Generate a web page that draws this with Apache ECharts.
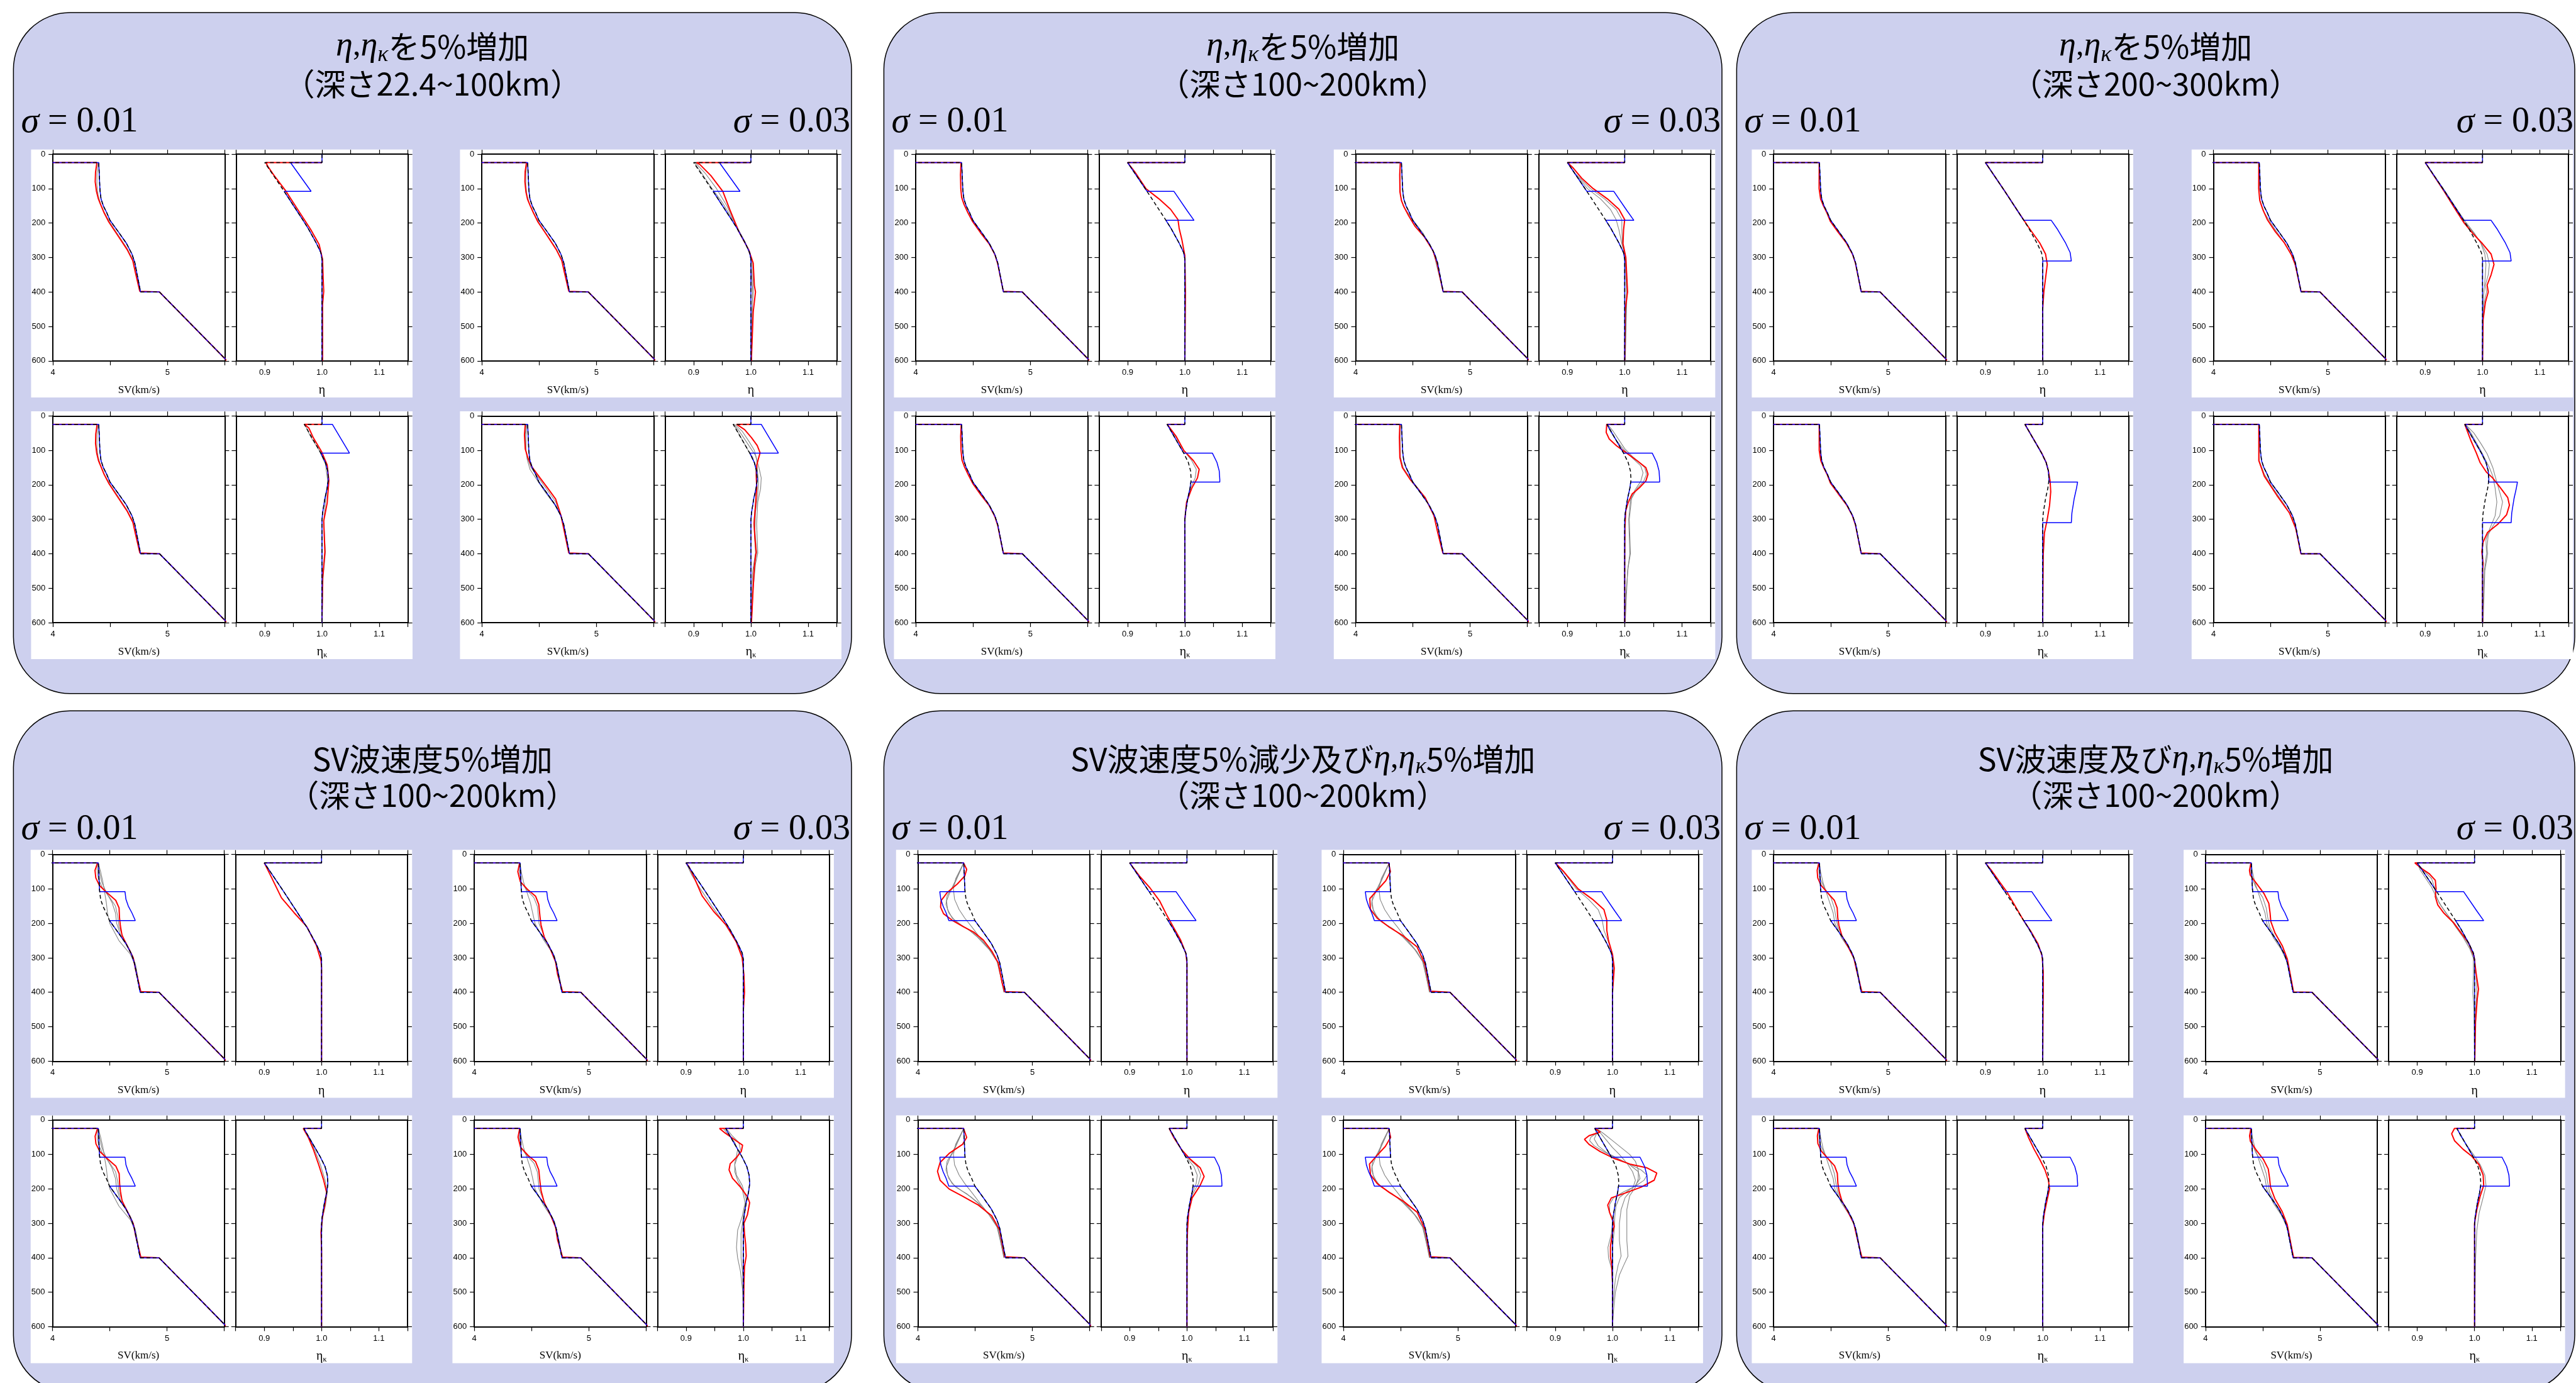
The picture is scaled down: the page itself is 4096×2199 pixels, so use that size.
<!DOCTYPE html>
<html>
<head>
<meta charset="utf-8">
<script src="https://cdn.jsdelivr.net/npm/echarts/dist/echarts.min.js"></script>
<style>
html, body { margin: 0; padding: 0; background: #fff; }
#chart { width: 4096px; height: 2199px; }
</style>
</head>
<body>
<div id="chart"></div>
<script>
// ---- data: profiles as [value, depth(km)] ----
var svTail = [[4.765, 400], [4.93, 400], [5.5, 593], [5.52, 600]];

var svInit = [[3.6, 0], [3.6, 24.4], [4.40, 24.4], [4.41, 100], [4.412, 108], [4.42, 130], [4.44, 150], [4.47, 170], [4.498, 192], [4.57, 225], [4.64, 258], [4.69, 290], [4.715, 315]].concat(svTail);
var svTrueUp = [[3.6, 0], [3.6, 24.4], [4.40, 24.4], [4.41, 100], [4.412, 108], [4.633, 108], [4.641, 130], [4.662, 150], [4.694, 170], [4.723, 192], [4.498, 192], [4.57, 225], [4.64, 258], [4.69, 290], [4.715, 315]].concat(svTail);
var svTrueDown = [[3.6, 0], [3.6, 24.4], [4.40, 24.4], [4.41, 100], [4.412, 108], [4.191, 108], [4.20, 130], [4.22, 150], [4.247, 170], [4.27, 192], [4.498, 192], [4.57, 225], [4.64, 258], [4.69, 290], [4.715, 315]].concat(svTail);

var etaInit = [[1, 0], [1, 24.4], [0.9, 24.4], [0.934, 108], [0.956, 164], [0.967, 192], [0.976, 216], [0.99, 258], [0.998, 286], [1.0, 305], [1.0, 600]];
var etaTrueShallow = [[1, 0], [1, 24.4], [0.945, 24.4], [0.981, 108], [0.934, 108], [0.956, 164], [0.967, 192], [0.976, 216], [0.99, 258], [0.998, 286], [1.0, 305], [1.0, 600]];
var etaTrueMid = [[1, 0], [1, 24.4], [0.9, 24.4], [0.934, 108], [0.981, 108], [1.004, 164], [1.016, 192], [0.967, 192], [0.976, 216], [0.99, 258], [0.998, 286], [1.0, 305], [1.0, 600]];
var etaTrueDeep = [[1, 0], [1, 24.4], [0.9, 24.4], [0.934, 108], [0.956, 164], [0.967, 192], [1.015, 192], [1.025, 216], [1.04, 258], [1.048, 286], [1.05, 310], [1.0, 310], [1.0, 600]];

var etakInit = [[1, 0], [1, 24.4], [0.969, 24.4], [0.998, 108], [1.006, 135], [1.010, 160], [1.011, 185], [1.0105, 192], [1.009, 210], [1.005, 240], [1.001, 282], [1.0, 303], [1.0, 600]];
var etakTrueShallow = [[1, 0], [1, 24.4], [1.018, 24.4], [1.048, 108], [0.998, 108], [1.006, 135], [1.010, 160], [1.011, 185], [1.0105, 192], [1.009, 210], [1.005, 240], [1.001, 282], [1.0, 303], [1.0, 600]];
var etakTrueMid = [[1, 0], [1, 24.4], [0.969, 24.4], [0.998, 108], [1.048, 108], [1.056, 135], [1.06, 160], [1.061, 185], [1.061, 192], [1.0105, 192], [1.009, 210], [1.005, 240], [1.001, 282], [1.0, 303], [1.0, 600]];
var etakTrueDeep = [[1, 0], [1, 24.4], [0.969, 24.4], [0.998, 108], [1.006, 135], [1.010, 160], [1.011, 185], [1.0105, 192], [1.061, 192], [1.059, 210], [1.055, 240], [1.051, 282], [1.05, 310], [1.0, 310], [1.0, 600]];

// panel A : eta, eta_k +5% (22.4-100km)
var redA1Sv = [[4.0, 24.4], [4.384, 24.4], [4.372, 52], [4.369, 80], [4.38, 108], [4.396, 129], [4.415, 145], [4.445, 169], [4.488, 197], [4.562, 234], [4.648, 277], [4.697, 309], [4.719, 342], [4.758, 398]].concat(svTail);
var redA2Sv = [[4.0, 24.4], [4.39, 24.4], [4.378, 50], [4.376, 80], [4.385, 110], [4.40, 132], [4.42, 148], [4.45, 170], [4.49, 197], [4.565, 234], [4.65, 277], [4.698, 309], [4.72, 342], [4.759, 398]].concat(svTail);
var redA3Sv = [[4.0, 24.4], [4.386, 24.4], [4.374, 52], [4.372, 80], [4.382, 108], [4.398, 130], [4.418, 146], [4.447, 170], [4.49, 197], [4.563, 234], [4.649, 277], [4.698, 309], [4.72, 342], [4.759, 398]].concat(svTail);
var redA4Sv = [[4.0, 24.4], [4.379, 24.4], [4.372, 55], [4.379, 96], [4.402, 122], [4.437, 148], [4.506, 179], [4.58, 212], [4.644, 241], [4.69, 288], [4.713, 324], [4.759, 398]].concat(svTail);
var grayA1Sv = [[[4.395, 24.4], [4.385, 55], [4.384, 90], [4.395, 120], [4.42, 148], [4.45, 170], [4.495, 197], [4.565, 232], [4.65, 275], [4.70, 308], [4.72, 340], [4.76, 398]]];
var grayA4Sv = [
  [[4.392, 24.4], [4.385, 60], [4.386, 100], [4.395, 125], [4.42, 155], [4.48, 185], [4.55, 220], [4.64, 260], [4.69, 290], [4.715, 320], [4.762, 398]],
  [[4.388, 24.4], [4.378, 55], [4.382, 96], [4.398, 122], [4.43, 150], [4.495, 180], [4.57, 215], [4.645, 250], [4.692, 290], [4.714, 322], [4.76, 398]]
];
var redA1Eta = [[1, 24.4], [0.902, 24.4], [0.906, 37], [0.916, 61], [0.936, 105], [0.957, 159], [0.98, 218], [0.995, 262], [1.001, 305], [1.002, 360], [1.003, 398], [1.001, 436], [1.001, 600]];
var redA2Eta = [[1, 24.4], [0.905, 24.4], [0.911, 30], [0.93, 62], [0.951, 108], [0.963, 160], [0.979, 225], [0.996, 277], [1.004, 316], [1.006, 381], [1.008, 400], [1.004, 458], [1.001, 588], [1.001, 600]];
var grayA2Eta = [
  [[0.903, 24.4], [0.92, 55], [0.94, 100], [0.958, 150], [0.978, 220], [0.995, 275], [1.003, 320], [1.004, 400], [1.002, 460], [1.0, 600]],
  [[0.901, 24.4], [0.912, 50], [0.93, 95], [0.95, 140], [0.972, 200], [0.99, 255], [1.0, 300], [1.003, 400], [1.001, 600]]
];
var redA3Etak = [[1, 24.4], [0.969, 24.4], [0.977, 35], [0.985, 64], [0.999, 103], [1.009, 142], [1.012, 188], [1.009, 253], [1.003, 305], [1.005, 395], [1.001, 473], [1.0, 600]];
var grayA3Etak = [[[0.97, 24.4], [0.98, 60], [0.995, 100], [1.006, 140], [1.01, 190], [1.006, 250], [1.003, 305], [1.006, 395], [1.002, 470], [1.0, 600]]];
var redA4Etak = [[1, 24.4], [0.975, 24.4], [0.989, 40], [1.001, 63], [1.011, 86], [1.016, 107], [1.0135, 122], [1.0102, 143], [1.0093, 174], [1.0102, 210], [1.0079, 262], [1.0056, 313], [1.007, 355], [1.0093, 396], [1.008, 406], [1.0056, 448], [1.0033, 520], [1.0009, 600]];
var grayA4Etak = [
  [[0.97, 24.4], [0.98, 45], [0.99, 70], [1.0, 95], [1.008, 115], [1.014, 150], [1.018, 180], [1.017, 210], [1.012, 250], [1.01, 313], [1.012, 398], [1.008, 430], [1.004, 500], [1.001, 600]],
  [[0.969, 24.4], [0.975, 40], [0.985, 70], [0.995, 100], [1.003, 120], [1.008, 150], [1.01, 190], [1.008, 250], [1.005, 310], [1.008, 398], [1.003, 450], [1.0, 600]],
  [[0.972, 24.4], [0.985, 45], [0.997, 75], [1.006, 100], [1.01, 125], [1.011, 150], [1.013, 190], [1.012, 230], [1.008, 280], [1.007, 330], [1.01, 398], [1.005, 440], [1.001, 600]]
];

// panel B : eta, eta_k +5% (100-200km)
var redB1Sv = [[4.0, 24.4], [4.395, 24.4], [4.39, 60], [4.393, 100], [4.40, 125], [4.42, 145], [4.455, 170], [4.495, 195], [4.565, 228], [4.64, 260], [4.69, 291], [4.715, 318], [4.764, 398]].concat(svTail);
var redB2Sv = [[4.0, 24.4], [4.39, 24.4], [4.385, 60], [4.387, 110], [4.40, 135], [4.425, 155], [4.465, 180], [4.52, 210], [4.60, 240], [4.675, 280], [4.71, 315], [4.763, 398]].concat(svTail);
var redB3Sv = [[4.0, 24.4], [4.397, 24.4], [4.392, 60], [4.395, 100], [4.403, 128], [4.425, 148], [4.46, 172], [4.497, 196], [4.567, 229], [4.642, 261], [4.69, 292], [4.715, 318], [4.764, 398]].concat(svTail);
var redB4Sv = [[4.0, 24.4], [4.386, 24.4], [4.382, 62], [4.386, 121], [4.408, 150], [4.475, 184], [4.607, 237], [4.684, 290], [4.717, 339], [4.762, 399]].concat(svTail);
var grayB4Sv = [[[4.392, 24.4], [4.388, 62], [4.392, 120], [4.415, 150], [4.48, 182], [4.59, 230], [4.68, 285], [4.716, 335], [4.763, 399]]];
var redB1Eta = [[1, 24.4], [0.9, 24.4], [0.912, 50], [0.932, 100], [0.955, 130], [0.975, 160], [0.988, 190], [0.99, 215], [0.995, 250], [1.0, 295], [1.001, 400], [1.0, 600]];
var redB2Eta = [[1, 24.4], [0.9, 24.4], [0.91, 40], [0.925, 70], [0.945, 100], [0.97, 130], [0.99, 160], [1.0, 190], [0.998, 220], [0.997, 260], [1.002, 300], [1.005, 400], [1.001, 450], [1.0, 600]];
var grayB2Eta = [
  [[0.9, 24.4], [0.915, 60], [0.935, 100], [0.958, 130], [0.975, 160], [0.985, 190], [0.99, 220], [0.995, 260], [1.001, 300], [1.003, 400], [1.0, 600]],
  [[0.9, 24.4], [0.913, 55], [0.94, 100], [0.965, 130], [0.985, 160], [0.995, 190], [0.995, 220], [0.996, 260], [1.001, 300], [1.004, 400], [1.001, 600]]
];
var redB3Etak = [[1, 24.4], [0.969, 24.4], [0.985, 60], [0.998, 100], [1.015, 130], [1.025, 155], [1.022, 180], [1.012, 210], [1.003, 250], [1.0, 300], [1.0, 600]];
var grayB3Etak = [[[0.969, 24.4], [0.984, 60], [0.998, 100], [1.012, 130], [1.02, 155], [1.018, 180], [1.01, 210], [1.003, 250], [1.0, 300], [1.0, 600]]];
var redB4Etak = [[1, 24.4], [0.9686, 24.4], [0.9677, 48], [0.973, 67], [0.986, 87], [1.0018, 106], [1.0217, 130], [1.037, 150], [1.0407, 169], [1.037, 188.6], [1.026, 208], [1.0128, 227], [1.006, 252], [1.0018, 276], [1.0004, 324], [1.0, 421], [1.0, 600]];
var grayB4Etak = [
  [[0.969, 24.4], [0.975, 45], [0.985, 70], [0.997, 95], [1.012, 120], [1.028, 145], [1.032, 165], [1.028, 190], [1.018, 215], [1.01, 245], [1.007, 300], [1.008, 350], [1.009, 400], [1.005, 450], [1.001, 600]],
  [[0.97, 24.4], [0.98, 45], [0.99, 70], [1.0, 95], [1.015, 120], [1.035, 150], [1.038, 170], [1.033, 190], [1.022, 210], [1.012, 240], [1.008, 300], [1.01, 400], [1.006, 440], [1.002, 520], [1.0, 600]]
];

// panel C : eta, eta_k +5% (200-300km)
var redC1Sv = [[4.0, 24.4], [4.398, 24.4], [4.397, 100], [4.41, 130], [4.435, 150], [4.465, 170], [4.495, 195], [4.56, 225], [4.635, 258], [4.688, 290], [4.714, 316], [4.764, 398]].concat(svTail);
var redC2Sv = [[4.0, 24.4], [4.396, 24.4], [4.395, 100], [4.405, 135], [4.43, 160], [4.47, 190], [4.54, 225], [4.62, 258], [4.68, 292], [4.714, 320], [4.764, 398]].concat(svTail);
var redC3Sv = [[4.0, 24.4], [4.398, 24.4], [4.398, 100], [4.412, 130], [4.437, 150], [4.467, 170], [4.496, 195], [4.562, 225], [4.636, 258], [4.688, 290], [4.714, 316], [4.764, 398]].concat(svTail);
var redC4Sv = [[4.0, 24.4], [4.396, 24.4], [4.396, 130], [4.444, 175], [4.554, 231], [4.664, 282], [4.719, 327], [4.763, 400]].concat(svTail);
var grayC4Sv = [[[4.40, 24.4], [4.40, 130], [4.445, 170], [4.52, 210], [4.62, 258], [4.685, 295], [4.715, 325], [4.764, 398]]];
var redC1Eta = [[1, 24.4], [0.9, 24.4], [0.934, 108], [0.956, 164], [0.977, 216], [0.995, 258], [1.005, 290], [1.008, 320], [1.005, 360], [1.002, 400], [1.0, 450], [1.0, 600]];
var redC2Eta = [[1, 24.4], [0.9, 24.4], [0.933, 108], [0.954, 164], [0.968, 200], [0.983, 230], [1.0, 260], [1.015, 290], [1.02, 320], [1.015, 350], [1.008, 380], [1.01, 400], [1.005, 430], [1.001, 480], [1.0, 600]];
var grayC2Eta = [
  [[0.9, 24.4], [0.934, 108], [0.955, 164], [0.97, 200], [0.985, 230], [0.998, 260], [1.008, 290], [1.012, 320], [1.01, 350], [1.005, 380], [1.007, 400], [1.003, 430], [1.0, 480], [1.0, 600]],
  [[0.9, 24.4], [0.935, 108], [0.957, 164], [0.972, 200], [0.986, 230], [0.997, 258], [1.004, 290], [1.006, 320], [1.005, 350], [1.003, 390], [1.001, 430], [1.0, 480], [1.0, 600]]
];
var redC3Etak = [[1, 24.4], [0.969, 24.4], [0.998, 107], [1.006, 135], [1.01, 160], [1.013, 190], [1.014, 220], [1.012, 260], [1.008, 300], [1.003, 340], [1.001, 400], [1.0, 600]];
var redC4Etak = [[1, 24.4], [0.969, 24.4], [0.9736, 45], [0.98, 73], [0.989, 107], [0.9956, 135], [1.0066, 163], [1.0176, 180], [1.0308, 208], [1.044, 237], [1.047, 259], [1.042, 287], [1.0264, 315], [1.0088, 338], [1.001, 366], [0.9987, 394], [1.001, 428], [1.0, 451], [1.0, 600]];
var grayC4Etak = [
  [[0.97, 24.4], [0.985, 50], [0.997, 80], [1.008, 110], [1.018, 150], [1.022, 175], [1.028, 210], [1.035, 250], [1.03, 290], [1.018, 320], [1.01, 345], [1.008, 380], [1.009, 400], [1.004, 450], [1.001, 600]],
  [[0.97, 24.4], [0.98, 50], [0.99, 80], [1.0, 110], [1.012, 150], [1.018, 175], [1.022, 210], [1.025, 250], [1.022, 290], [1.012, 330], [1.006, 360], [1.007, 400], [1.003, 450], [1.0, 600]]
];

// panel D : SV +5% (100-200km)
var redD1Sv = [[4.0, 24.4], [4.393, 24.4], [4.371, 46], [4.378, 68], [4.41, 90], [4.476, 111], [4.552, 133], [4.581, 155], [4.585, 184], [4.592, 206], [4.607, 235], [4.662, 271], [4.705, 300], [4.727, 337], [4.771, 398]].concat(svTail);
var redD2Sv = [[4.0, 24.4], [4.396, 24.4], [4.38, 50], [4.402, 79], [4.47, 103], [4.535, 121], [4.563, 145], [4.574, 181], [4.583, 205], [4.611, 240], [4.666, 276], [4.71, 312], [4.727, 348], [4.771, 398]].concat(svTail);
var redD3Sv = [[4.0, 24.4], [4.394, 24.4], [4.372, 47], [4.379, 69], [4.412, 91], [4.478, 112], [4.553, 134], [4.582, 156], [4.586, 185], [4.593, 207], [4.608, 236], [4.663, 272], [4.705, 301], [4.727, 338], [4.771, 398]].concat(svTail);
var redD4Sv = [[4.0, 24.4], [4.397, 24.4], [4.382, 49.5], [4.404, 79], [4.47, 103], [4.535, 121], [4.563, 145], [4.574, 181], [4.583, 205], [4.611, 240], [4.666, 276], [4.71, 312], [4.727, 348], [4.771, 398]].concat(svTail);
var grayD1Sv = [
  [[4.40, 24.4], [4.42, 50], [4.44, 80], [4.455, 110], [4.47, 140], [4.48, 170], [4.50, 200], [4.58, 250], [4.68, 290], [4.72, 320], [4.768, 400]],
  [[4.40, 24.4], [4.41, 50], [4.43, 80], [4.47, 110], [4.52, 140], [4.55, 170], [4.56, 200], [4.60, 240], [4.68, 280], [4.725, 320], [4.768, 400]],
  [[4.395, 24.4], [4.39, 45], [4.40, 70], [4.44, 100], [4.50, 125], [4.55, 150], [4.57, 180], [4.58, 210], [4.63, 250], [4.70, 295], [4.73, 330], [4.77, 400]]
];
var grayD4Sv = [
  [[4.40, 24.4], [4.41, 50], [4.43, 80], [4.46, 110], [4.49, 140], [4.51, 170], [4.53, 200], [4.60, 245], [4.68, 285], [4.72, 320], [4.769, 400]],
  [[4.40, 24.4], [4.395, 50], [4.41, 80], [4.45, 100], [4.52, 125], [4.55, 150], [4.56, 180], [4.565, 200], [4.62, 245], [4.70, 295], [4.73, 335], [4.77, 400]]
];
var redD1Eta = [[1, 24.4], [0.9, 24.4], [0.902, 31], [0.913, 68], [0.93, 126], [0.952, 169], [0.974, 209], [0.991, 264], [0.999, 308], [1.0, 330], [1.0, 600]];
var redD2Eta = [[1, 24.4], [0.9, 24.4], [0.905, 35], [0.915, 70], [0.928, 120], [0.948, 165], [0.97, 205], [0.988, 255], [0.998, 300], [1.001, 350], [1.002, 400], [1.0, 450], [1.0, 600]];
var grayD2Eta = [[[0.9, 24.4], [0.91, 60], [0.925, 100], [0.945, 150], [0.965, 195], [0.985, 245], [0.997, 290], [1.001, 350], [1.0, 600]]];
var redD3Etak = [[1, 24.4], [0.968, 24.4], [0.977, 51], [0.986, 87], [0.995, 130], [1.0035, 174], [1.0087, 210], [1.0057, 246], [1.0013, 283], [0.999, 326], [1.0, 380], [1.0, 600]];
var grayD3Etak = [[[0.969, 24.4], [0.978, 50], [0.988, 87], [0.998, 130], [1.006, 174], [1.01, 210], [1.007, 246], [1.002, 283], [1.0, 330], [1.0, 600]]];
var redD4Etak = [[1, 24.4], [0.9583, 24.4], [0.968, 37.6], [0.988, 61], [0.9987, 73], [0.9965, 91], [0.9878, 109], [0.977, 127], [0.975, 145], [0.981, 169], [0.994, 193], [1.007, 222.5], [1.011, 240], [1.007, 276], [1.001, 300], [1.002, 330], [1.004, 360], [1.005, 395], [1.002, 425], [1.001, 479], [1.0, 600]];
var grayD4Etak = [
  [[0.965, 24.4], [0.975, 45], [0.985, 65], [0.99, 85], [0.988, 105], [0.985, 125], [0.985, 150], [0.99, 175], [0.998, 200], [1.003, 240], [0.998, 280], [0.99, 320], [0.988, 370], [0.99, 400], [0.995, 440], [0.999, 500], [1.0, 600]],
  [[0.97, 24.4], [0.98, 45], [0.992, 65], [0.995, 85], [0.99, 105], [0.985, 130], [0.988, 160], [0.998, 190], [1.005, 230], [1.0, 280], [0.996, 330], [0.996, 400], [0.999, 450], [1.0, 600]]
];

// panel E : SV -5% and eta, eta_k +5% (100-200km)
var redE1Sv = [[4.0, 24.4], [4.398, 24.4], [4.426, 43], [4.409, 62.5], [4.343, 86], [4.257, 110], [4.202, 134], [4.198, 153], [4.224, 172], [4.30, 191], [4.398, 210], [4.485, 225], [4.572, 248.5], [4.648, 282], [4.702, 315], [4.735, 372], [4.757, 398]].concat(svTail);
var redE2Sv = [[4.0, 24.4], [4.394, 24.4], [4.41, 50], [4.37, 76], [4.30, 102], [4.23, 128], [4.235, 159], [4.295, 185], [4.40, 211], [4.525, 237], [4.642, 268], [4.712, 319], [4.758, 397]].concat(svTail);
var redE3Sv = [[4.0, 24.4], [4.398, 24.4], [4.426, 50.6], [4.389, 71], [4.273, 97], [4.194, 123], [4.171, 149], [4.194, 175], [4.273, 200.5], [4.389, 221], [4.528, 247], [4.644, 278], [4.713, 319], [4.758, 397]].concat(svTail);
var redE4Sv = [[4.0, 24.4], [4.394, 24.4], [4.412, 50.6], [4.366, 76.5], [4.296, 102], [4.227, 128], [4.236, 159], [4.296, 185], [4.403, 211], [4.528, 237], [4.644, 268], [4.713, 319], [4.758, 397]].concat(svTail);
var grayESv = [
  [[4.40, 24.4], [4.36, 55], [4.32, 85], [4.28, 110], [4.25, 135], [4.26, 160], [4.30, 185], [4.38, 205], [4.47, 225], [4.56, 250], [4.64, 282], [4.70, 315], [4.75, 400]],
  [[4.40, 24.4], [4.33, 70], [4.31, 100], [4.32, 130], [4.36, 160], [4.41, 185], [4.47, 210], [4.55, 245], [4.64, 282], [4.70, 315], [4.755, 400]],
  [[4.40, 24.4], [4.35, 60], [4.30, 95], [4.255, 120], [4.245, 145], [4.27, 170], [4.33, 195], [4.43, 215], [4.52, 240], [4.62, 275], [4.69, 310], [4.755, 400]]
];
var redE1Eta = [[1, 24.4], [0.9, 24.4], [0.917, 62.5], [0.935, 96], [0.952, 134], [0.965, 177], [0.976, 210], [0.989, 248.5], [0.998, 286.6], [1.0, 315], [1.0, 600]];
var redE2Eta = [[1, 24.4], [0.9, 24.4], [0.915, 50], [0.94, 100], [0.965, 130], [0.985, 160], [0.99, 190], [0.99, 220], [0.993, 250], [1.0, 290], [1.003, 330], [1.0, 400], [1.0, 600]];
var grayE2Eta = [[[0.9, 24.4], [0.914, 50], [0.937, 100], [0.958, 130], [0.975, 160], [0.982, 190], [0.985, 220], [0.992, 250], [1.0, 290], [1.002, 330], [1.0, 400], [1.0, 600]]];
var redE3Etak = [[1, 24.4], [0.969, 24.4], [0.977, 50.6], [0.991, 87], [1.005, 112.7], [1.023, 138.5], [1.03, 164], [1.023, 190], [1.009, 226], [1.003, 268], [1.001, 319], [1.0, 371], [1.0, 600]];
var grayE3Etak = [
  [[0.969, 24.4], [0.98, 55], [0.99, 85], [1.0, 110], [1.012, 135], [1.018, 160], [1.016, 185], [1.008, 215], [1.003, 260], [1.0, 320], [1.0, 600]],
  [[0.969, 24.4], [0.978, 55], [0.99, 85], [1.002, 110], [1.018, 135], [1.024, 160], [1.02, 185], [1.01, 215], [1.004, 250], [1.001, 300], [1.0, 600]]
];
var redE4Etak = [[1, 24.4], [0.969, 24.4], [0.9786, 35], [0.959, 45.5], [0.951, 56], [0.959, 71], [0.9786, 92], [1.0045, 112.7], [1.0304, 128], [1.0595, 138.5], [1.0773, 154], [1.0728, 174.7], [1.0498, 195], [1.024, 211], [0.998, 226], [0.9916, 247], [0.9948, 268], [1.0013, 293.5], [1.0029, 309], [0.9997, 330], [0.9964, 366], [0.9964, 397], [0.9987, 423], [1.0, 474], [1.0, 600]];
var grayE4Etak = [
  [[0.97, 24.4], [0.975, 35], [0.962, 50], [0.96, 60], [0.968, 75], [0.985, 92], [1.005, 110], [1.03, 128], [1.05, 145], [1.06, 160], [1.055, 175], [1.04, 192], [1.02, 208], [1.002, 225], [0.995, 245], [0.995, 270], [1.0, 295], [0.998, 330], [0.992, 370], [0.993, 400], [0.998, 430], [1.0, 480], [1.0, 600]],
  [[0.97, 24.4], [0.972, 40], [0.968, 55], [0.975, 75], [0.99, 95], [1.01, 112], [1.03, 130], [1.045, 150], [1.048, 170], [1.04, 190], [1.025, 208], [1.012, 225], [1.006, 250], [1.004, 280], [1.003, 320], [1.0, 370], [1.0, 600]],
  [[0.972, 24.4], [0.985, 40], [1.0, 60], [1.015, 80], [1.03, 100], [1.04, 120], [1.045, 145], [1.045, 170], [1.04, 195], [1.03, 220], [1.025, 260], [1.025, 300], [1.025, 350], [1.027, 395], [1.02, 420], [1.012, 450], [1.005, 500], [1.002, 550], [1.0, 600]],
  [[0.97, 24.4], [0.98, 40], [0.99, 60], [1.0, 80], [1.012, 100], [1.025, 125], [1.035, 150], [1.04, 175], [1.035, 200], [1.022, 225], [1.015, 260], [1.012, 300], [1.012, 350], [1.015, 395], [1.01, 420], [1.005, 460], [1.0, 550], [1.0, 600]]
];

// panel F : SV and eta, eta_k +5% (100-200km)
var redF1Sv = [[4.0, 24.4], [4.395, 24.4], [4.38, 46], [4.385, 68], [4.415, 90], [4.47, 111], [4.53, 133], [4.555, 155], [4.56, 184], [4.57, 206], [4.595, 235], [4.655, 271], [4.70, 300], [4.725, 337], [4.77, 398]].concat(svTail);
var redF2Sv = [[4.0, 24.4], [4.397, 24.4], [4.384, 46], [4.391, 60], [4.445, 84], [4.51, 113], [4.553, 142], [4.564, 170], [4.57, 194], [4.607, 228], [4.672, 266], [4.715, 304], [4.737, 343], [4.769, 399]].concat(svTail);
var redF3Sv = [[4.0, 24.4], [4.395, 24.4], [4.382, 46], [4.386, 68], [4.416, 90], [4.472, 111], [4.532, 133], [4.556, 155], [4.561, 184], [4.571, 206], [4.596, 235], [4.656, 271], [4.70, 300], [4.725, 337], [4.77, 398]].concat(svTail);
var redF4Sv = [[4.0, 24.4], [4.397, 24.4], [4.385, 46], [4.392, 62], [4.44, 86], [4.505, 114], [4.548, 142], [4.56, 170], [4.567, 194], [4.605, 228], [4.67, 266], [4.714, 304], [4.736, 343], [4.769, 399]].concat(svTail);
var grayFSv = [
  [[4.40, 24.4], [4.41, 50], [4.43, 80], [4.46, 110], [4.49, 140], [4.52, 170], [4.535, 200], [4.59, 240], [4.66, 275], [4.71, 310], [4.765, 400]],
  [[4.40, 24.4], [4.395, 45], [4.40, 65], [4.44, 95], [4.50, 125], [4.53, 155], [4.545, 185], [4.56, 210], [4.62, 250], [4.69, 290], [4.73, 330], [4.767, 400]]
];
var redF1Eta = [[1, 24.4], [0.9, 24.4], [0.91, 45], [0.925, 80], [0.938, 110], [0.952, 150], [0.966, 190], [0.98, 225], [0.992, 260], [0.999, 295], [1.001, 340], [1.001, 400], [1.0, 600]];
var redF2Eta = [[1, 24.4], [0.8957, 24.4], [0.9078, 41], [0.9207, 55.5], [0.9315, 74.7], [0.9328, 98.6], [0.9315, 122.6], [0.9358, 146.5], [0.9466, 170.5], [0.9638, 199], [0.9767, 228], [0.9897, 256.7], [0.9991, 295], [1.0026, 343], [1.0069, 390.7], [1.0047, 419.5], [1.0017, 486.5], [1.0004, 600]];
var grayF2Eta = [
  [[0.9, 24.4], [0.905, 45], [0.915, 70], [0.925, 95], [0.932, 120], [0.942, 150], [0.955, 180], [0.967, 210], [0.98, 240], [0.992, 275], [1.0, 310], [1.003, 350], [1.004, 400], [1.002, 450], [1.0, 600]],
  [[0.9, 24.4], [0.91, 45], [0.925, 70], [0.93, 95], [0.932, 115], [0.938, 140], [0.95, 170], [0.965, 200], [0.978, 230], [0.99, 262], [0.998, 295], [0.998, 350], [0.997, 400], [0.999, 450], [1.0, 600]]
];
var redF3Etak = [[1, 24.4], [0.969, 24.4], [0.975, 50], [0.985, 85], [0.995, 115], [1.004, 145], [1.01, 175], [1.012, 200], [1.008, 230], [1.003, 270], [1.0, 310], [1.0, 600]];
var redF4Etak = [[1, 24.4], [0.965, 24.4], [0.96, 40], [0.965, 60], [0.98, 85], [0.995, 105], [1.008, 130], [1.015, 160], [1.016, 190], [1.01, 220], [1.004, 260], [1.0, 300], [1.0, 600]];
var grayF4Etak = [[[0.97, 24.4], [0.975, 45], [0.985, 70], [0.998, 100], [1.01, 130], [1.018, 160], [1.02, 190], [1.015, 225], [1.008, 270], [1.004, 320], [1.002, 400], [1.0, 600]]];

// ---- layout (reference pixels, scaled by S) ----
var S = 4096 / 6132;
var FW = 409, FH = 492;
var title1 = '{m|η}{c|,}{m|η}{k|κ}{j|を5%増加}';

var panels = [
  { x: 32, y: 30, boxX: [74, 1095], boxY: [356, 979], tY: [111, 199], sY: 291,
    t1: title1, t2: '（深さ22.4~100km）', sv: svInit, eta: etaTrueShallow, etak: etakTrueShallow,
    plots: [[redA1Sv, grayA1Sv, redA1Eta, []], [redA2Sv, grayA1Sv, redA2Eta, grayA2Eta], [redA3Sv, grayA1Sv, redA3Etak, grayA3Etak], [redA4Sv, grayA4Sv, redA4Etak, grayA4Etak]] },
  { x: 2104, y: 30, boxX: [2128, 3175], boxY: [356, 979], tY: [111, 199], sY: 291,
    t1: title1, t2: '（深さ100~200km）', sv: svInit, eta: etaTrueMid, etak: etakTrueMid,
    plots: [[redB1Sv, [], redB1Eta, []], [redB2Sv, grayB4Sv, redB2Eta, grayB2Eta], [redB3Sv, [], redB3Etak, grayB3Etak], [redB4Sv, grayB4Sv, redB4Etak, grayB4Etak]] },
  { x: 4134, y: 30, boxX: [4170, 5217], boxY: [356, 979], tY: [111, 199], sY: 291,
    t1: title1, t2: '（深さ200~300km）', sv: svInit, eta: etaTrueDeep, etak: etakTrueDeep,
    plots: [[redC1Sv, [], redC1Eta, []], [redC2Sv, grayC4Sv, redC2Eta, grayC2Eta], [redC3Sv, [], redC3Etak, []], [redC4Sv, grayC4Sv, redC4Etak, grayC4Etak]] },
  { x: 32, y: 1692, boxX: [73, 1077], boxY: [2023, 2655], tY: [1807, 1893], sY: 1975,
    t1: '{j|SV波速度5%増加}', t2: '（深さ100~200km）', sv: svTrueUp, eta: etaInit, etak: etakInit,
    plots: [[redD1Sv, grayD1Sv, redD1Eta, []], [redD2Sv, grayD4Sv, redD2Eta, grayD2Eta], [redD3Sv, grayD1Sv, redD3Etak, grayD3Etak], [redD4Sv, grayD4Sv, redD4Etak, grayD4Etak]] },
  { x: 2104, y: 1692, boxX: [2133, 3146], boxY: [2023, 2655], tY: [1807, 1893], sY: 1975,
    t1: '{j|SV波速度5%減少及び}{m|η}{c|,}{m|η}{k|κ}{j|5%増加}', t2: '（深さ100~200km）', sv: svTrueDown, eta: etaTrueMid, etak: etakTrueMid,
    plots: [[redE1Sv, grayESv, redE1Eta, []], [redE2Sv, grayESv, redE2Eta, grayE2Eta], [redE3Sv, grayESv, redE3Etak, grayE3Etak], [redE4Sv, grayESv, redE4Etak, grayE4Etak]] },
  { x: 4134, y: 1692, boxX: [4170, 5198], boxY: [2023, 2655], tY: [1807, 1893], sY: 1975,
    t1: '{j|SV波速度及び}{m|η}{c|,}{m|η}{k|κ}{j|5%増加}', t2: '（深さ100~200km）', sv: svTrueUp, eta: etaTrueMid, etak: etakTrueMid,
    plots: [[redF1Sv, grayFSv, redF1Eta, []], [redF2Sv, grayFSv, redF2Eta, grayF2Eta], [redF3Sv, grayFSv, redF3Etak, []], [redF4Sv, grayFSv, redF4Etak, grayF4Etak]] }
];

var titleRich = {
  j: { fontFamily: 'Noto Sans CJK JP', fontSize: 50, lineHeight: 62, verticalAlign: 'middle' },
  m: { fontFamily: 'Liberation Serif', fontStyle: 'italic', fontSize: 54, lineHeight: 62, verticalAlign: 'middle' },
  c: { fontFamily: 'Liberation Serif', fontSize: 50, lineHeight: 62, verticalAlign: 'middle' },
  k: { fontFamily: 'Liberation Serif', fontStyle: 'italic', fontSize: 36, lineHeight: 36, verticalAlign: 'bottom' }
};

var grids = [], xAxes = [], yAxes = [], series = [], graphics = [];

function addLine(ai, data, color, width, type, z) {
  series.push({
    type: 'line', xAxisIndex: ai, yAxisIndex: ai, data: data,
    showSymbol: false, symbol: 'none', clip: true, silent: true, z: z,
    lineStyle: { color: color, width: width, type: type }
  });
}

function addPlot(fx, fy, kind, truth, init, red, grays) {
  var gi = grids.length;
  var sv = kind === 'sv';
  grids.push({ left: fx * S, top: fy * S, width: FW * S, height: FH * S, show: false, containLabel: false, outerBoundsMode: 'none' });
  var frame = { show: true, onZero: false, lineStyle: { color: '#000', width: 2 } };
  var tick = { show: true, inside: false, length: 7, lineStyle: { color: '#000', width: 1.2 } };
  var xCommon = {
    type: 'value', gridIndex: gi, min: sv ? 4 : 0.85, max: sv ? 5.5 : 1.15, interval: sv ? 0.5 : 0.05,
    splitLine: { show: false }, axisLine: frame, axisTick: tick
  };
  xAxes.push(Object.assign({}, xCommon, {
    position: 'bottom',
    axisLabel: {
      show: true, margin: 12, color: '#000', fontFamily: 'Liberation Sans', fontSize: 13,
      formatter: function (v) {
        if (sv) return (Math.abs(v - Math.round(v)) < 1e-6 && v < 5.4) ? String(Math.round(v)) : '';
        var r = Math.round(v * 100);
        return (r % 10 === 0 && r >= 90 && r <= 110) ? (r / 100).toFixed(1) : '';
      }
    },
    name: sv ? 'SV(km/s)' : (kind === 'eta' ? '{a|η}' : '{a|η}{b|κ}'),
    nameLocation: 'middle', nameGap: sv ? 38 : 36,
    nameTextStyle: {
      color: '#000', fontFamily: 'Liberation Serif', fontSize: 17,
      rich: {
        a: { fontFamily: 'Liberation Serif', fontSize: 20, lineHeight: 22, verticalAlign: 'middle', color: '#000' },
        b: { fontFamily: 'Liberation Serif', fontSize: 12, lineHeight: 12, verticalAlign: 'bottom', color: '#000' }
      }
    }
  }));
  xAxes.push(Object.assign({}, xCommon, { position: 'top', axisLabel: { show: false } }));
  var yCommon = {
    type: 'value', gridIndex: gi, inverse: true, min: 0, max: 600, interval: 100,
    splitLine: { show: false }, axisLine: frame, axisTick: tick
  };
  yAxes.push(Object.assign({}, yCommon, {
    position: 'left',
    axisLabel: sv ? { show: true, margin: 12, color: '#000', fontFamily: 'Liberation Sans', fontSize: 13 } : { show: false }
  }));
  yAxes.push(Object.assign({}, yCommon, { position: 'right', axisLabel: { show: false } }));
  var ai = 2 * gi;
  grays.forEach(function (g) { addLine(ai, g, '#858585', 1.1, 'solid', 2); });
  addLine(ai, red, '#ff0000', 2, 'solid', 3);
  addLine(ai, truth, '#0000ff', 1.5, 'solid', 4);
  addLine(ai, init, '#000000', 1.5, [6, 4], 5);
}

panels.forEach(function (p) {
  var pw = 1995, ph = 1621;
  graphics.push({
    type: 'rect', z: -10, silent: true,
    shape: { x: p.x * S, y: p.y * S, width: pw * S, height: ph * S, r: 90 },
    style: { fill: '#cdd0ee', stroke: '#000', lineWidth: 1.5 }
  });
  var cx = (p.x + pw / 2) * S;
  graphics.push({
    type: 'text', z: 10, silent: true, x: cx, y: p.tY[0] * S,
    style: { text: p.t1, rich: titleRich, align: 'center', verticalAlign: 'middle', fill: '#000' }
  });
  graphics.push({
    type: 'text', z: 10, silent: true, x: cx, y: p.tY[1] * S,
    style: { text: p.t2, fontFamily: 'Noto Sans CJK JP', fontSize: 49, align: 'center', verticalAlign: 'middle', fill: '#000' }
  });
  var sigRich = {
    s: { fontFamily: 'Liberation Serif', fontStyle: 'italic', fontSize: 58, verticalAlign: 'middle' },
    t: { fontFamily: 'Liberation Serif', fontSize: 56, verticalAlign: 'middle' }
  };
  graphics.push({
    type: 'text', z: 10, silent: true, x: (p.x + 18) * S, y: p.sY * S,
    style: { text: '{s|σ}{t| = 0.01}', rich: sigRich, align: 'left', verticalAlign: 'middle', fill: '#000' }
  });
  graphics.push({
    type: 'text', z: 10, silent: true, x: (p.x + 1992) * S, y: p.sY * S,
    style: { text: '{s|σ}{t| = 0.03}', rich: sigRich, align: 'right', verticalAlign: 'middle', fill: '#000' }
  });
  for (var b = 0; b < 4; b++) {
    var bx = p.boxX[b % 2], by = p.boxY[b < 2 ? 0 : 1];
    graphics.push({
      type: 'rect', z: -9, silent: true,
      shape: { x: bx * S, y: by * S, width: 908 * S, height: 590 * S },
      style: { fill: '#ffffff' }
    });
    var pl = p.plots[b];
    addPlot(bx + 52, by + 11, 'sv', p.sv, svInit, pl[0], pl[1]);
    if (b < 2) addPlot(bx + 488, by + 11, 'eta', p.eta, etaInit, pl[2], pl[3]);
    else addPlot(bx + 488, by + 11, 'etak', p.etak, etakInit, pl[2], pl[3]);
  }
});

var chart = echarts.init(document.getElementById('chart'));
chart.setOption({
  animation: false,
  backgroundColor: '#ffffff',
  graphic: { elements: graphics },
  grid: grids,
  xAxis: xAxes,
  yAxis: yAxes,
  series: series
});
</script>
</body>
</html>
